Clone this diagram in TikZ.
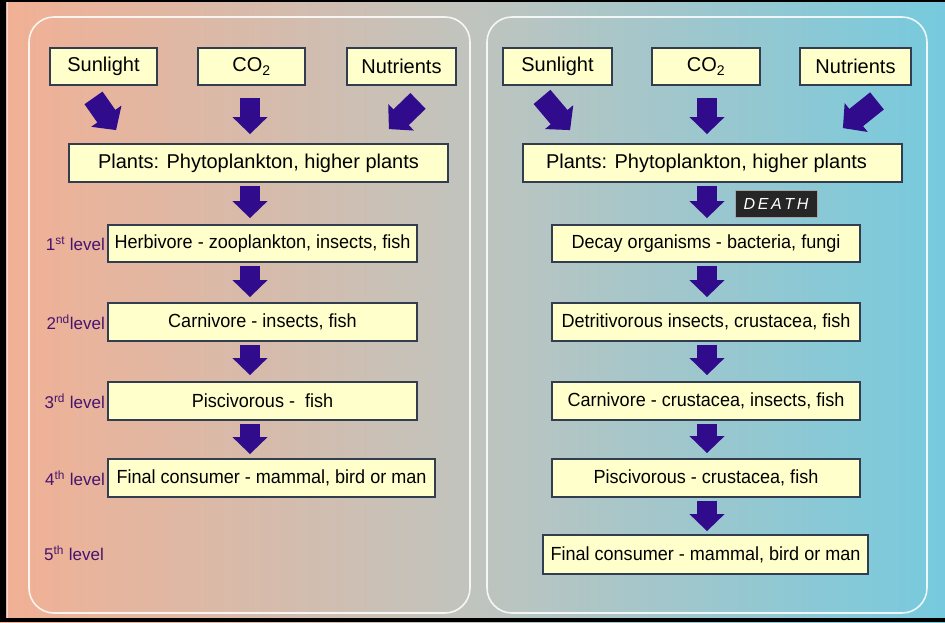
\documentclass[tikz,border=0pt]{standalone}
\usepackage{fontspec}
\setmainfont{Liberation Sans}
\newfontfamily\narrowfont[FakeStretch=0.95]{Liberation Sans}
\usetikzlibrary{arrows.meta,calc}

\definecolor{arrowc}{RGB}{48,12,140}
\definecolor{boxfill}{RGB}{255,255,204}
\definecolor{boxdraw}{RGB}{50,62,80}
\definecolor{lvlc}{RGB}{70,20,110}
\definecolor{bgl}{RGB}{242,176,148}
\definecolor{bgm}{RGB}{192,196,190}
\definecolor{bgr}{RGB}{118,202,222}
\definecolor{deathbg}{RGB}{38,38,38}

\begin{document}
\begin{tikzpicture}[x=1pt,y=-1pt,
  srcbox/.style={draw=boxdraw,line width=1.8pt,fill=boxfill,minimum height=37pt,inner sep=0pt,
    font=\fontsize{20}{22}\selectfont},
  lvlbox/.style={srcbox,font=\narrowfont\fontsize{19}{21}\selectfont},
  lvl/.style={anchor=east,text=lvlc,font=\fontsize{17}{19}\selectfont,inner sep=0pt},
  blk/.style={draw=arrowc,line width=20pt,-{Triangle[width=34pt,length=17pt]},arrowc},
  blkdiag/.style={blk,line width=22pt,-{Triangle[width=36pt,length=17pt]}},
  panel/.style={draw=white,line width=1.6pt,rounded corners=25pt,opacity=0.85}
]
\useasboundingbox (0,0) rectangle (945,622);
% background
\fill[left color=bgl,right color=bgr,middle color=bgm] (0,0) rectangle (945,622);
\fill[black] (0,0) rectangle (6,622);
\fill[black] (0,0) rectangle (945,2);
\fill[black] (0,618) rectangle (945,622);
\draw[white!75!gray,line width=1pt] (7,2) -- (7,618);
% panels
\draw[panel] (29,17) rectangle (470,613);
\draw[panel] (487,17) rectangle (927,613);

% ---------- left panel ----------
\node[srcbox,minimum width=107pt] (sunL) at (103.5,66.5) {Sunlight};
\node[srcbox,minimum width=107pt] (co2L) at (251.5,66.5) {CO\textsubscript{2}};
\node[srcbox,minimum width=109pt] (nutL) at (401.5,66.5) {Nutrients};
\node[srcbox,minimum width=379pt,minimum height=38pt] (plantsL) at (258.5,163) {Plants: Phytoplankton, higher plants};
\node[lvlbox,minimum width=309pt] (herbL) at (262.5,243.5) {Herbivore - zooplankton, insects, fish};
\node[lvlbox,minimum width=309pt,minimum height=38pt] (carnL) at (262.5,322) {Carnivore - insects, fish};
\node[lvlbox,minimum width=309pt,minimum height=38pt] (piscL) at (262.5,401) {Piscivorous -\ \ fish};
\node[lvlbox,minimum width=327pt,minimum height=38pt] (finalL) at (271.5,478) {Final consumer - mammal, bird or man};

\node[lvl] (l1) at (105,243.5) {1\textsuperscript{st} level};
\node[lvl] (l2) at (105,322) {2\textsuperscript{nd}level};
\node[lvl] (l3) at (105,401) {3\textsuperscript{rd} level};
\node[lvl] (l4) at (105,478) {4\textsuperscript{th} level};
\node[lvl] (l5) at (104,553) {5\textsuperscript{th} level};

\draw[blkdiag] ($(sunL.south)+(-10,12)$) -- ($(plantsL.north west)+(48,-13)$);
\draw[blk] ($(co2L.south)+(-1.5,12)$) -- ($(plantsL.north -| co2L.south)+(-1.5,-9)$);
\draw[blkdiag] ($(nutL.south)+(16.5,15)$) -- ($(plantsL.north east)+(-60,-14)$);
\draw[blk] ($(plantsL.south -| co2L.south)+(-1.5,3)$) -- ($(herbL.north -| co2L.south)+(-1.5,-6)$);
\draw[blk] ($(herbL.south -| co2L.south)+(-1.5,3)$) -- ($(carnL.north -| co2L.south)+(-1.5,-5)$);
\draw[blk] ($(carnL.south -| co2L.south)+(-1.5,3)$) -- ($(piscL.north -| co2L.south)+(-1.5,-6)$);
\draw[blk] ($(piscL.south -| co2L.south)+(-1.5,3)$) -- ($(finalL.north -| co2L.south)+(-1.5,-4)$);

% ---------- right panel ----------
\node[srcbox,minimum width=109pt] (sunR) at (557.5,66.5) {Sunlight};
\node[srcbox,minimum width=108pt] (co2R) at (706,66.5) {CO\textsubscript{2}};
\node[srcbox,minimum width=111pt] (nutR) at (855.5,66.5) {Nutrients};
\node[srcbox,minimum width=379pt,minimum height=38pt] (plantsR) at (712.5,163) {Plants: Phytoplankton, higher plants\hspace*{12pt}};
\node[lvlbox,minimum width=308pt] (decay) at (706,243.5) {Decay organisms - bacteria, fungi};
\node[lvlbox,minimum width=308pt,minimum height=38pt] (detr) at (706,322) {Detritivorous insects, crustacea, fish};
\node[lvlbox,minimum width=308pt,minimum height=38pt] (carnR) at (706,401) {Carnivore - crustacea, insects, fish};
\node[lvlbox,minimum width=308pt,minimum height=38pt] (piscR) at (706,478) {Piscivorous - crustacea, fish};
\node[lvlbox,minimum width=325pt,minimum height=39pt] (finalR) at (705.5,554.5) {Final consumer - mammal, bird or man};
\node[fill=deathbg,draw=gray!70,line width=0.8pt,text=white,minimum width=82pt,minimum height=27pt,inner sep=0pt,
  font=\fontsize{16}{18}\selectfont\itshape] (death) at (776,203.5) {D\,E\,A\,T\,H};

\draw[blkdiag] ($(sunR.south)+(-15.5,11)$) -- ($(plantsR.north west)+(48,-13)$);
\draw[blk] ($(co2R.south)+(1,12)$) -- ($(plantsR.north -| co2R.south)+(1,-9)$);
\draw[blkdiag] ($(nutR.south)+(21.5,15)$) -- ($(plantsR.north east)+(-60,-15)$);
\draw[blk] ($(plantsR.south -| decay.north)+(1,3)$) -- ($(decay.north)+(1,-6)$);
\draw[blk] ($(decay.south)+(1,3)$) -- ($(detr.north)+(1,-5)$);
\draw[blk] ($(detr.south)+(1,3)$) -- ($(carnR.north)+(1,-6)$);
\draw[blk] ($(carnR.south)+(1,3)$) -- ($(piscR.north)+(1,-5)$);
\draw[blk] ($(piscR.south)+(1,3)$) -- ($(finalR.north)+(1.5,-3)$);
\end{tikzpicture}
\end{document}
